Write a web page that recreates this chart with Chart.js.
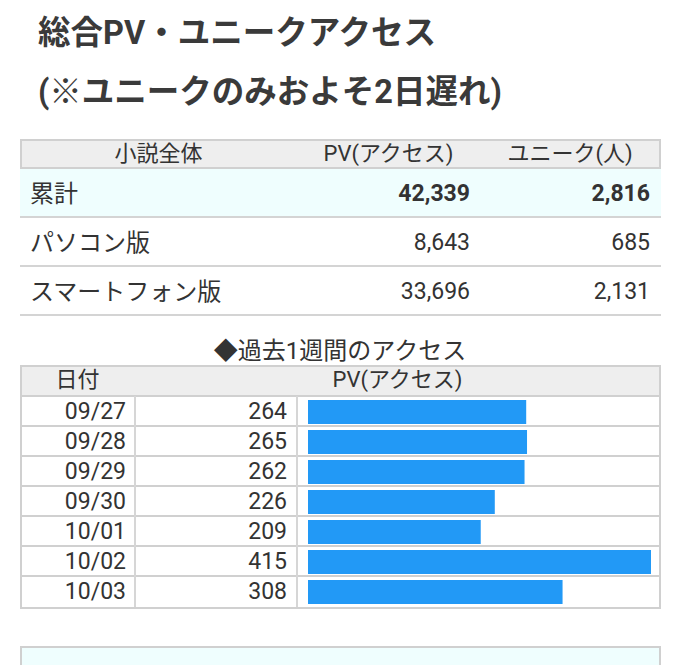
<!DOCTYPE html>
<html>
<head>
<meta charset="utf-8">
<script src="https://cdn.jsdelivr.net/npm/chart.js@4/dist/chart.umd.min.js"></script>
<style>
  body { margin: 0; background: #fff; font-family: Roboto, "Noto Sans CJK JP", sans-serif; color: #333; }
  #page { position: relative; width: 680px; height: 665px; overflow: hidden; }
  .title { position: absolute; left: 38px; font-size: 32.5px; font-weight: bold; color: #3a3a3a; white-space: nowrap; line-height: 40px; }
  .abs { position: absolute; white-space: nowrap; }
  .box { position: absolute; box-sizing: border-box; }
  .cell { position: absolute; font-size: 23px; color: #333; line-height: 1; }
</style>
</head>
<body>
<div id="page">
  <div class="title" style="top:13px">総合PV・ユニークアクセス</div>
  <div class="title" style="top:72px">(※ユニークのみおよそ2日遅れ)</div>
  <div id="summary"></div>
  <div class="abs" style="left:0;width:680px;top:331px;text-align:center;font-size:24px;color:#333">◆過去1週間のアクセス</div>
  <div id="weekly"></div>
  <div class="box" style="left:20px;top:646px;width:641px;height:40px;border:2px solid #d0d0d0;background:#effefe"></div>
</div>
<script>
// summary table
var summaryHeader = ['小説全体', 'PV(アクセス)', 'ユニーク(人)'];
var summaryLabels = ['累計', 'パソコン版', 'スマートフォン版'];
var summaryPV = [42339, 8643, 33696];
var summaryUnique = [2816, 685, 2131];

// past week
var weekDates = ['09/27', '09/28', '09/29', '09/30', '10/01', '10/02', '10/03'];
var weekPV = [264, 265, 262, 226, 209, 415, 308];

function num(v) { return v.toLocaleString('en-US'); }

function add(parent, cls, style, text) {
  var el = document.createElement('div');
  el.className = cls;
  el.setAttribute('style', style);
  if (text != null) el.textContent = text;
  parent.appendChild(el);
  return el;
}

// --- summary ---
var s = document.getElementById('summary');
add(s, 'box', 'left:20px;top:139px;width:641px;height:30px;background:#eee;border:2px solid #d0d0d0');
add(s, 'cell', 'left:20px;width:277px;top:143px;text-align:center;font-size:22px', summaryHeader[0]);
add(s, 'cell', 'left:297px;width:183px;top:143px;text-align:center;font-size:22px', summaryHeader[1]);
add(s, 'cell', 'left:480px;width:180px;top:143px;text-align:center;font-size:22px', summaryHeader[2]);
var rowTop = [169, 218, 267];
summaryLabels.forEach(function(lab, i) {
  var top = rowTop[i];
  var bold = i === 0 ? 'font-weight:bold;' : '';
  add(s, 'box', 'left:20px;top:' + top + 'px;width:641px;height:49px;border-bottom:2px solid #d4d4d4;' + (i === 0 ? 'background:#effefe' : ''));
  add(s, 'cell', 'left:30px;top:' + (top + 13) + 'px;font-size:24px', lab);
  add(s, 'cell', 'left:297px;width:173px;top:' + (top + 13) + 'px;text-align:right;font-size:23px;' + bold, num(summaryPV[i]));
  add(s, 'cell', 'left:480px;width:170px;top:' + (top + 13) + 'px;text-align:right;font-size:23px;' + bold, num(summaryUnique[i]));
});

// --- weekly ---
var w = document.getElementById('weekly');
var rowH = 30.15, gridTop = 395.5;
add(w, 'box', 'left:20px;top:365px;width:641px;height:' + (gridTop + rowH * 7 - 365 + 2) + 'px;border:2px solid #d0d0d0');
add(w, 'box', 'left:22px;top:367px;width:637px;height:28px;background:#eee');
add(w, 'cell', 'left:20px;width:115px;top:369px;text-align:center;font-size:22px', '日付');
add(w, 'cell', 'left:135px;width:525px;top:369px;text-align:center;font-size:22px', 'PV(アクセス)');
for (var i = 0; i <= 6; i++) {
  add(w, 'box', 'left:20px;top:' + (gridTop + rowH * i - 1) + 'px;width:641px;height:2px;background:#d0d0d0');
}
add(w, 'box', 'left:134px;top:' + gridTop + 'px;width:2px;height:' + (rowH * 7) + 'px;background:#d6d6d6');
add(w, 'box', 'left:296px;top:' + gridTop + 'px;width:2px;height:' + (rowH * 7) + 'px;background:#d6d6d6');
weekDates.forEach(function(d, i) {
  var top = gridTop + rowH * i + 4;
  add(w, 'cell', 'left:20px;width:106px;top:' + top + 'px;text-align:right', d);
  add(w, 'cell', 'left:135px;width:152px;top:' + top + 'px;text-align:right', num(weekPV[i]));
});

var holder = add(w, 'box', 'left:298px;top:' + gridTop + 'px;width:362px;height:' + (rowH * 7) + 'px');
var canvas = document.createElement('canvas');
holder.appendChild(canvas);

new Chart(canvas.getContext('2d'), {
  type: 'bar',
  data: {
    labels: weekDates,
    datasets: [{
      data: weekPV,
      backgroundColor: '#2299f6',
      borderWidth: 0,
      barPercentage: 0.8,
      categoryPercentage: 1.0
    }]
  },
  options: {
    indexAxis: 'y',
    responsive: true,
    maintainAspectRatio: false,
    animation: false,
    layout: { padding: { left: 10, right: 9, top: 1, bottom: 0 } },
    plugins: { legend: { display: false }, tooltip: { enabled: false } },
    scales: {
      x: { display: false, min: 0, max: 415 },
      y: { display: false }
    }
  }
});
</script>
</body>
</html>
